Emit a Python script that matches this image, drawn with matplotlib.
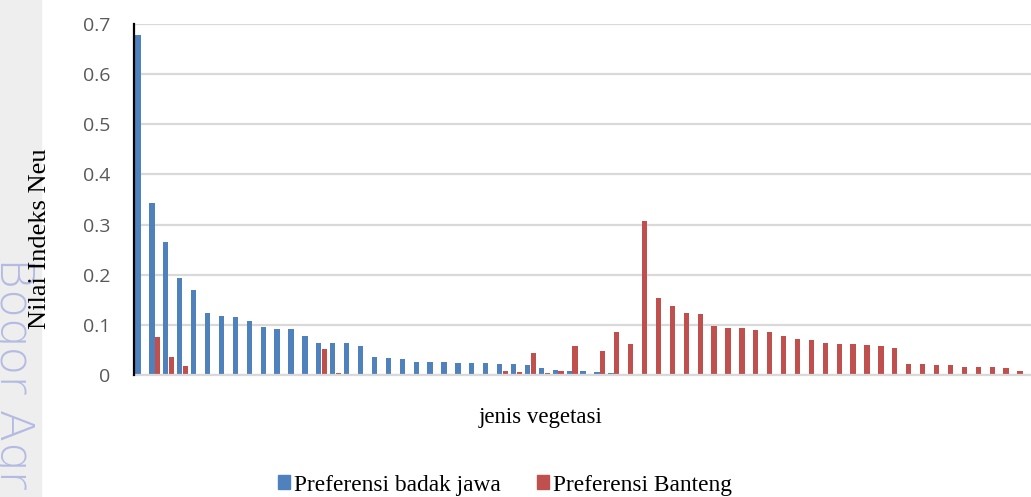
import numpy as np
import matplotlib
matplotlib.use("Agg")
import matplotlib.pyplot as plt
from matplotlib.patches import Patch

# Nilai indeks Neu per jenis vegetasi (64 jenis, urut seperti di grafik)
badak_jawa = [0.679, 0.343, 0.265, 0.193, 0.169, 0.123, 0.117, 0.116, 0.108, 0.096,
              0.092, 0.092, 0.077, 0.063, 0.063, 0.063, 0.058, 0.036, 0.034, 0.031,
              0.026, 0.026, 0.026, 0.024, 0.024, 0.024, 0.021, 0.021, 0.019, 0.014,
              0.009, 0.008, 0.007, 0.005, 0.003] + [0.0] * 29
banteng = [0.0, 0.075, 0.035, 0.018, 0.0, 0.0, 0.0, 0.0, 0.0, 0.0,
           0.0, 0.0, 0.0, 0.051, 0.003, 0.0, 0.0, 0.0, 0.0, 0.0,
           0.0, 0.0, 0.0, 0.0, 0.0, 0.0, 0.007, 0.006, 0.043, 0.004,
           0.007, 0.058, 0.0, 0.047, 0.085, 0.062, 0.307, 0.153, 0.137, 0.124,
           0.121, 0.098, 0.094, 0.094, 0.089, 0.085, 0.078, 0.071, 0.070, 0.064,
           0.062, 0.062, 0.060, 0.057, 0.053, 0.022, 0.021, 0.019, 0.019, 0.016,
           0.015, 0.015, 0.014, 0.007]
yticks = [0, 0.1, 0.2, 0.3, 0.4, 0.5, 0.6, 0.7]
ytick_labels = ["0", "0.1", "0.2", "0.3", "0.4", "0.5", "0.6", "0.7"]

W, H = 1031, 497
fig = plt.figure(figsize=(W / 100, H / 100), dpi=100)

# grey margin strip with the faded watermark
fig.patches.append(plt.Rectangle((0, 0), 41 / W, 1, transform=fig.transFigure,
                                 color="#EEEEEE", zorder=0))
fig.text(0 / W, 1 - 257 / H, "Bogor Agr", rotation=270, rotation_mode="anchor",
         ha="left", va="baseline", fontsize=34, color="#B4BBE2",
         family="DejaVu Sans", fontweight="light")

ax = fig.add_axes([134 / W, 1 - 375 / H, 1 - 134 / W, (375 - 24) / H])
ax.patch.set_alpha(0)

x = np.arange(len(badak_jawa))
ax.bar(x - 0.21, badak_jawa, 0.38, color="#4F81BD", zorder=2)
ax.bar(x + 0.21, banteng, 0.38, color="#C0504D", zorder=2)

ax.set_xlim(-0.5, 64.0)
ax.set_ylim(0, 0.7)
ax.set_yticks(yticks)
ax.set_yticklabels(ytick_labels, family="Open Sans", fontsize=14, color="#595959")
ax.set_xticks([])
ax.tick_params(axis="y", length=0, pad=17)
ax.yaxis.grid(True, color="#D9D9D9", lw=1.6)
ax.set_axisbelow(True)

for s in ["top", "right"]:
    ax.spines[s].set_visible(False)
ax.spines["left"].set_color("black")
ax.spines["left"].set_linewidth(1.6)
ax.spines["left"].set_zorder(3)
ax.spines["bottom"].set_color("#D9D9D9")
ax.spines["bottom"].set_linewidth(1.6)

fig.text(40 / W, 1 - 239 / H, "Nilai Indeks Neu", rotation=90, ha="center",
         va="center", family="Liberation Serif", fontsize=19, color="black")
fig.text(541 / W, 1 - 417 / H, "jenis vegetasi", ha="center", va="center",
         family="Liberation Serif", fontsize=16.5, color="black")

handles = [Patch(color="#4F81BD"), Patch(color="#C0504D")]
fig.legend(handles, ["Preferensi badak jawa", "Preferensi Banteng"], ncol=2,
           loc="center", bbox_to_anchor=(505 / W, 1 - 485 / H), frameon=False,
           prop={"family": "Liberation Serif", "size": 16.8},
           handlelength=0.52, handleheight=0.52, handletextpad=0.17,
           columnspacing=1.55, borderpad=0)

fig.savefig("out.png", dpi=100)
